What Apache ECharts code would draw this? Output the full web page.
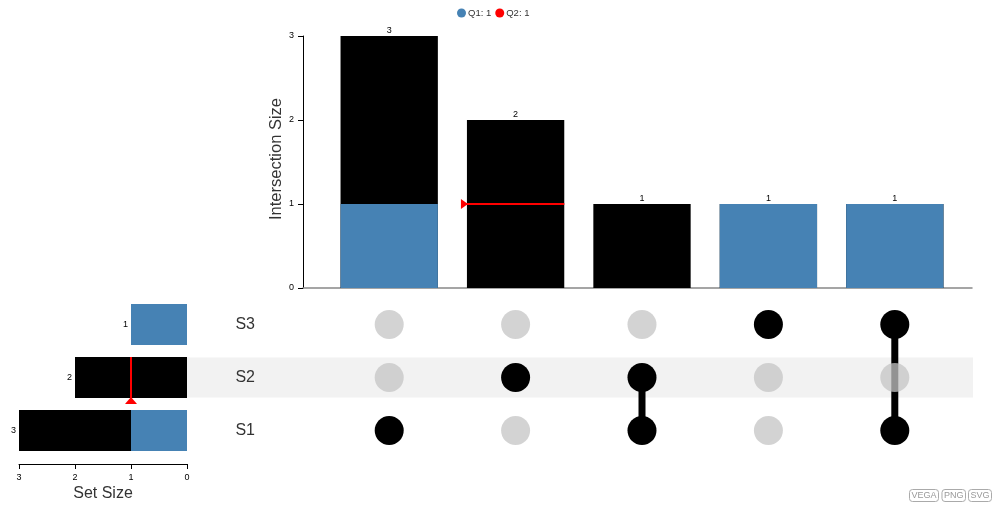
<!DOCTYPE html>
<html>
<head>
<meta charset="utf-8">
<script src="https://cdn.jsdelivr.net/npm/echarts@6/dist/echarts.min.js"></script>
<style>html,body{margin:0;padding:0;background:#fff}#c{width:997px;height:512px}</style>
</head>
<body>
<div id="c"></div>
<script>
// ---- data ----
const sets = ['S1', 'S2', 'S3'];
const setSizes = [3, 2, 1];
const setQ1 = [1, 0, 1];
const setQ2 = [0, 1, 0];            // Q2 marker value per set (0 = none)
const intersections = ['S1', 'S2', 'S1∩S2', 'S3', 'S1∩S3'];
const members = [['S1'], ['S2'], ['S1', 'S2'], ['S3'], ['S1', 'S3']];
const interSizes = [3, 2, 1, 1, 1];
const interQ1 = [1, 0, 0, 1, 1];
const interQ2 = [0, 1, 0, 0, 0];
const highlightRow = 'S2';
const q1Name = 'Q1: 1', q2Name = 'Q2: 1';

const BLUE = '#4682b4', RED = '#ff0000';
const FONT = 'Liberation Sans, Arial, sans-serif';
const BARFRAC = 0.77;

// matrix point data
const memberPts = [], nonMemberPts = [], linkData = [];
members.forEach((m, c) => {
  const rows = m.map(s => sets.indexOf(s));
  sets.forEach((s, r) => {
    if (rows.includes(r)) memberPts.push([c, r]); else nonMemberPts.push([c, r]);
  });
  if (rows.length > 1) linkData.push([c, Math.min(...rows), Math.max(...rows)]);
});
const q2InterData = interQ2.map((v, i) => [i, v]).filter(d => d[1] > 0);
const q2SetData = setQ2.map((v, i) => [v, i]).filter(d => d[0] > 0);

const chart = echarts.init(document.getElementById('c'), null, {renderer: 'canvas'});
chart.setOption({
  animation: false,
  textStyle: {fontFamily: FONT},
  legend: {
    top: 3, left: 452, itemWidth: 9, itemHeight: 9, itemGap: 4,
    icon: 'circle', data: [q1Name, q2Name],
    textStyle: {fontSize: 9.5, color: '#333', fontFamily: FONT, padding: [0, 0, 0, -3]}
  },
  grid: [
    {left: 326, right: 39, top: 36, height: 252},   // 0 intersection bars
    {left: 303, right: 25, top: 36, height: 252},   // 1 baseline
    {left: 326, right: 39, top: 298, height: 159},  // 2 matrix
    {left: 187, right: 24, top: 298, height: 159},  // 3 highlight band
    {left: 19, width: 168, top: 298, height: 159}   // 4 set sizes
  ],
  xAxis: [
    {gridIndex: 0, type: 'category', data: intersections, axisLine: {show: false}, axisTick: {show: false}, axisLabel: {show: false}},
    {gridIndex: 1, type: 'value', min: 0, max: 1, axisLine: {show: true, lineStyle: {color: '#888', width: 1.5}}, axisTick: {show: false}, axisLabel: {show: false}, splitLine: {show: false}},
    {gridIndex: 2, type: 'category', data: intersections, show: false},
    {gridIndex: 3, type: 'value', min: 0, max: 1, show: false},
    {gridIndex: 4, type: 'value', inverse: true, min: 0, max: 3, interval: 1, offset: 7,
      axisLine: {show: true, lineStyle: {color: '#000', width: 1}},
      axisTick: {show: true, inside: false, length: 5, lineStyle: {color: '#000'}},
      axisLabel: {fontSize: 9, color: '#000', margin: 9},
      splitLine: {show: false},
      name: 'Set Size', nameLocation: 'middle', nameGap: 22,
      nameTextStyle: {fontSize: 16, color: '#333', fontFamily: FONT}}
  ],
  yAxis: [
    {gridIndex: 0, type: 'value', min: 0, max: 3, interval: 1, offset: 23,
      axisLine: {show: true, lineStyle: {color: '#000', width: 1}},
      axisTick: {show: true, inside: false, length: 5, lineStyle: {color: '#000'}},
      axisLabel: {fontSize: 9, color: '#000', margin: 9},
      splitLine: {show: false},
      name: 'Intersection Size', nameLocation: 'middle', nameGap: 18, nameMoveOverlap: false,
      nameTextStyle: {fontSize: 16.5, color: '#333', fontFamily: FONT, padding: [0, 0, 0, 6]}},
    {gridIndex: 1, type: 'value', show: false},
    {gridIndex: 2, type: 'category', data: sets,
      axisLine: {show: false}, axisTick: {show: false},
      axisLabel: {fontSize: 16, color: '#333', margin: 71, align: 'right', fontFamily: FONT}},
    {gridIndex: 3, type: 'category', data: sets, show: false},
    {gridIndex: 4, type: 'category', data: sets, show: false}
  ],
  series: [
    // intersection bars
    {type: 'bar', name: 'total', xAxisIndex: 0, yAxisIndex: 0, data: interSizes,
      barCategoryGap: '23%', itemStyle: {color: '#000'},
      label: {show: true, position: 'top', distance: 1, fontSize: 9, color: '#000'}, z: 2},
    {type: 'bar', name: q1Name, xAxisIndex: 0, yAxisIndex: 0, data: interQ1,
      barGap: '-100%', barCategoryGap: '23%', itemStyle: {color: BLUE}, z: 3},
    {type: 'custom', name: q2Name, xAxisIndex: 0, yAxisIndex: 0, data: q2InterData, z: 4,
      itemStyle: {color: RED},
      renderItem: (params, api) => {
        const p = api.coord([api.value(0), api.value(1)]);
        const bw = api.size([1, 0])[0] * BARFRAC;
        const x0 = p[0] - bw / 2, x1 = p[0] + bw / 2, y = p[1];
        return {type: 'group', children: [
          {type: 'line', shape: {x1: x0 - 3, y1: y, x2: x1, y2: y}, style: {stroke: RED, lineWidth: 2}},
          {type: 'polygon', shape: {points: [[x0 - 6, y - 5], [x0 - 6, y + 5], [x0 + 1, y]]}, style: {fill: RED}}
        ]};
      }},
    // highlight band
    {type: 'custom', name: 'band', xAxisIndex: 3, yAxisIndex: 3, data: [[0, sets.indexOf(highlightRow)]], z: 0, silent: true,
      renderItem: (params, api) => {
        const r = api.value(1);
        const a = api.coord([0, r]), b = api.coord([1, r]);
        const h = api.size([0, 1])[1] * 0.755;
        return {type: 'rect', shape: {x: a[0], y: a[1] - h / 2, width: b[0] - a[0], height: h}, style: {fill: '#f2f2f2'}};
      }},
    // matrix links
    {type: 'custom', name: 'links', xAxisIndex: 2, yAxisIndex: 2, data: linkData, z: 2,
      renderItem: (params, api) => {
        const a = api.coord([api.value(0), api.value(1)]);
        const b = api.coord([api.value(0), api.value(2)]);
        return {type: 'line', shape: {x1: a[0], y1: a[1], x2: b[0], y2: b[1]}, style: {stroke: '#000', lineWidth: 7}};
      }},
    {type: 'scatter', name: 'off', xAxisIndex: 2, yAxisIndex: 2, data: nonMemberPts, symbolSize: 29, z: 3,
      itemStyle: {color: '#c4c4c4', opacity: 0.75}},
    {type: 'scatter', name: 'on', xAxisIndex: 2, yAxisIndex: 2, data: memberPts, symbolSize: 29, z: 4,
      itemStyle: {color: '#000', opacity: 1}},
    // set size bars
    {type: 'bar', name: 'setTotal', xAxisIndex: 4, yAxisIndex: 4, data: setSizes,
      barCategoryGap: '23%', itemStyle: {color: '#000'},
      label: {show: true, position: 'left', distance: 3, fontSize: 9, color: '#000'}, z: 2},
    {type: 'bar', name: q1Name, xAxisIndex: 4, yAxisIndex: 4, data: setQ1,
      barGap: '-100%', barCategoryGap: '23%', itemStyle: {color: BLUE}, z: 3},
    {type: 'custom', name: q2Name, xAxisIndex: 4, yAxisIndex: 4, data: q2SetData, z: 4,
      itemStyle: {color: RED},
      renderItem: (params, api) => {
        const p = api.coord([api.value(0), api.value(1)]);
        const bh = api.size([0, 1])[1] * BARFRAC;
        const y0 = p[1] - bh / 2, y1 = p[1] + bh / 2, x = p[0];
        return {type: 'group', children: [
          {type: 'line', shape: {x1: x, y1: y0, x2: x, y2: y1 + 2}, style: {stroke: RED, lineWidth: 2}},
          {type: 'polygon', shape: {points: [[x - 6, y1 + 6], [x + 6, y1 + 6], [x, y1 - 1]]}, style: {fill: RED}}
        ]};
      }}
  ],
  graphic: [
    {type: 'text', right: 58, bottom: 10, style: {text: 'VEGA', fontSize: 9, fill: '#999', fontFamily: FONT, borderColor: '#aaa', borderWidth: 1, borderRadius: 3, padding: [2, 2, 1, 2]}},
    {type: 'text', right: 31, bottom: 10, style: {text: 'PNG', fontSize: 9, fill: '#999', fontFamily: FONT, borderColor: '#aaa', borderWidth: 1, borderRadius: 3, padding: [2, 2, 1, 2]}},
    {type: 'text', right: 5, bottom: 10, style: {text: 'SVG', fontSize: 9, fill: '#999', fontFamily: FONT, borderColor: '#aaa', borderWidth: 1, borderRadius: 3, padding: [2, 2, 1, 2]}}
  ]
});
</script>
</body>
</html>
